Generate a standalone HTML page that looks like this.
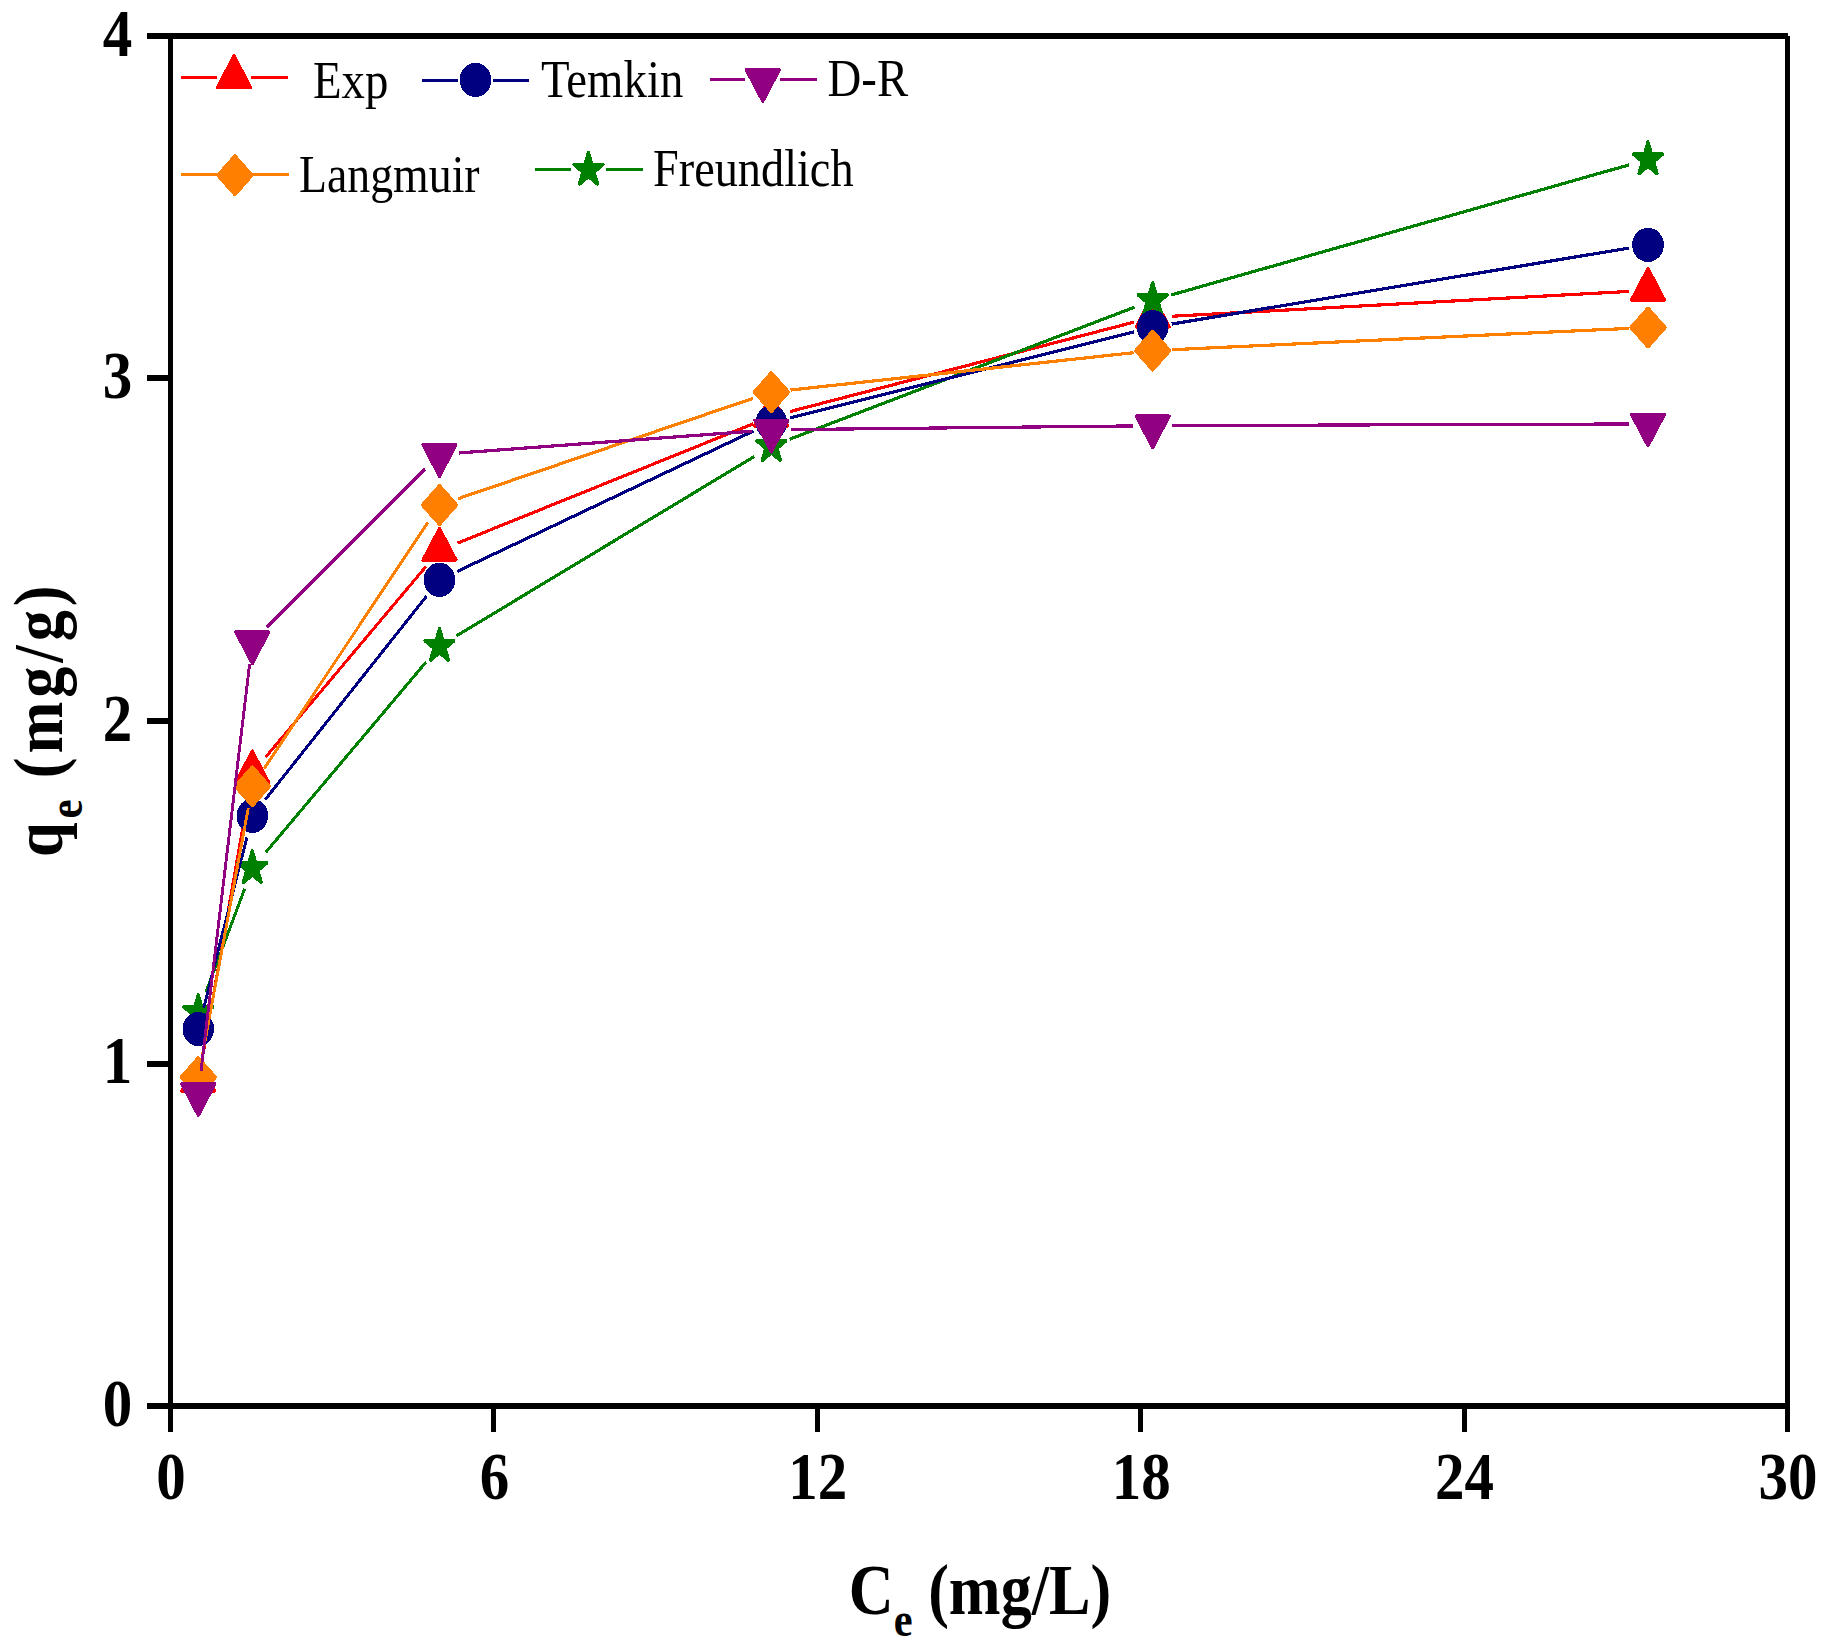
<!DOCTYPE html>
<html lang="en">
<head>
<meta charset="utf-8">
<title>Adsorption isotherm models</title>
<style>
html,body{margin:0;padding:0;background:#fff;}
body{width:1833px;height:1646px;overflow:hidden;}
svg{display:block;}
text{font-family:"Liberation Serif",serif;fill:#000;}
.b{font-weight:bold;}
</style>
</head>
<body>
<svg width="1833" height="1646" viewBox="0 0 1833 1646">
<rect x="0" y="0" width="1833" height="1646" fill="#ffffff"/>
<g transform="scale(1,1.1)" shape-rendering="crispEdges">
<g>
<line x1="202.13" y1="963.29" x2="248.47" y2="722.62" stroke="#ff0000" stroke-width="2.9"/>
<line x1="265.73" y1="688.21" x2="426.07" y2="514.88" stroke="#ff0000" stroke-width="2.9"/>
<line x1="457.64" y1="493.71" x2="753.26" y2="385.2" stroke="#ff0000" stroke-width="2.9"/>
<line x1="790.14" y1="374.12" x2="1133.96" y2="292.88" stroke="#ff0000" stroke-width="2.9"/>
<line x1="1171.88" y1="287.51" x2="1628.82" y2="264.95" stroke="#ff0000" stroke-width="2.9"/>
<polygon points="198.3,963.18 181.7,991.88 214.9,991.88" fill="#ff0000" stroke="#ff0000" stroke-width="3" stroke-linejoin="round"/>
<polygon points="252.3,682.73 235.7,711.43 268.9,711.43" fill="#ff0000" stroke="#ff0000" stroke-width="3" stroke-linejoin="round"/>
<polygon points="439.5,480.36 422.9,509.06 456.1,509.06" fill="#ff0000" stroke="#ff0000" stroke-width="3" stroke-linejoin="round"/>
<polygon points="771.4,358.55 754.8,387.25 788,387.25" fill="#ff0000" stroke="#ff0000" stroke-width="3" stroke-linejoin="round"/>
<polygon points="1152.7,268.45 1136.1,297.15 1169.3,297.15" fill="#ff0000" stroke="#ff0000" stroke-width="3" stroke-linejoin="round"/>
<polygon points="1648,244 1631.4,272.7 1664.6,272.7" fill="#ff0000" stroke="#ff0000" stroke-width="3" stroke-linejoin="round"/>
</g>
<g>
<line x1="205.98" y1="901.67" x2="244.62" y2="807.97" stroke="#008000" stroke-width="2.9"/>
<line x1="265.74" y1="774.86" x2="426.06" y2="601.86" stroke="#008000" stroke-width="2.9"/>
<line x1="456.55" y1="578.03" x2="754.35" y2="414.97" stroke="#008000" stroke-width="2.9"/>
<line x1="789.64" y1="399.29" x2="1134.46" y2="279.26" stroke="#008000" stroke-width="2.9"/>
<line x1="1171.35" y1="268.09" x2="1629.35" y2="149.82" stroke="#008000" stroke-width="2.9"/>
<polygon points="198.3,904.63 201.7,915.44 212.7,915.44 203.8,922.12 207.2,932.93 198.3,926.25 189.4,932.93 192.8,922.12 183.9,915.44 194.9,915.44" fill="#008000" stroke="#008000" stroke-width="3.4" stroke-linejoin="round"/>
<polygon points="252.3,773.72 255.7,784.53 266.7,784.53 257.8,791.21 261.2,802.02 252.3,795.34 243.4,802.02 246.8,791.21 237.9,784.53 248.9,784.53" fill="#008000" stroke="#008000" stroke-width="3.4" stroke-linejoin="round"/>
<polygon points="439.5,571.72 442.9,582.53 453.9,582.53 445,589.21 448.4,600.02 439.5,593.34 430.6,600.02 434,589.21 425.1,582.53 436.1,582.53" fill="#008000" stroke="#008000" stroke-width="3.4" stroke-linejoin="round"/>
<polygon points="771.4,390 774.8,400.8 785.8,400.8 776.9,407.48 780.3,418.29 771.4,411.61 762.5,418.29 765.9,407.48 757,400.8 768,400.8" fill="#008000" stroke="#008000" stroke-width="3.4" stroke-linejoin="round"/>
<polygon points="1152.7,257.27 1156.1,268.08 1167.1,268.08 1158.2,274.76 1161.6,285.56 1152.7,278.88 1143.8,285.56 1147.2,274.76 1138.3,268.08 1149.3,268.08" fill="#008000" stroke="#008000" stroke-width="3.4" stroke-linejoin="round"/>
<polygon points="1648,129.36 1651.4,140.17 1662.4,140.17 1653.5,146.85 1656.9,157.65 1648,150.97 1639.1,157.65 1642.5,146.85 1633.6,140.17 1644.6,140.17" fill="#008000" stroke="#008000" stroke-width="3.4" stroke-linejoin="round"/>
</g>
<g>
<line x1="203.73" y1="915.98" x2="246.87" y2="761.2" stroke="#000080" stroke-width="2.9"/>
<line x1="265.32" y1="726.8" x2="426.48" y2="542.01" stroke="#000080" stroke-width="2.9"/>
<line x1="457.28" y1="519.43" x2="753.62" y2="391.75" stroke="#000080" stroke-width="2.9"/>
<line x1="790.17" y1="379.83" x2="1133.93" y2="301.72" stroke="#000080" stroke-width="2.9"/>
<line x1="1171.71" y1="294.58" x2="1628.99" y2="225.51" stroke="#000080" stroke-width="2.9"/>
<ellipse cx="198.3" cy="935.45" rx="15.8" ry="15.55" fill="#000080"/>
<ellipse cx="252.3" cy="741.73" rx="15.8" ry="15.55" fill="#000080"/>
<ellipse cx="439.5" cy="527.09" rx="15.8" ry="15.55" fill="#000080"/>
<ellipse cx="771.4" cy="384.09" rx="15.8" ry="15.55" fill="#000080"/>
<ellipse cx="1152.7" cy="297.45" rx="15.8" ry="15.55" fill="#000080"/>
<ellipse cx="1648" cy="222.64" rx="15.8" ry="15.55" fill="#000080"/>
</g>
<g>
<line x1="202.35" y1="959.43" x2="248.25" y2="734.66" stroke="#ff8000" stroke-width="2.9"/>
<line x1="264.05" y1="698.76" x2="427.75" y2="475.14" stroke="#ff8000" stroke-width="2.9"/>
<line x1="457.93" y1="453.39" x2="752.97" y2="362.15" stroke="#ff8000" stroke-width="2.9"/>
<line x1="790.52" y1="354.56" x2="1133.58" y2="320.62" stroke="#ff8000" stroke-width="2.9"/>
<line x1="1171.88" y1="317.91" x2="1628.82" y2="298.54" stroke="#ff8000" stroke-width="2.9"/>
<polygon points="198.3,962.27 214.8,979.27 198.3,996.27 181.8,979.27" fill="#ff8000" stroke="#ff8000" stroke-width="4" stroke-linejoin="round"/>
<polygon points="252.3,697.82 268.8,714.82 252.3,731.82 235.8,714.82" fill="#ff8000" stroke="#ff8000" stroke-width="4" stroke-linejoin="round"/>
<polygon points="439.5,442.09 456,459.09 439.5,476.09 423,459.09" fill="#ff8000" stroke="#ff8000" stroke-width="4" stroke-linejoin="round"/>
<polygon points="771.4,339.45 787.9,356.45 771.4,373.45 754.9,356.45" fill="#ff8000" stroke="#ff8000" stroke-width="4" stroke-linejoin="round"/>
<polygon points="1152.7,301.73 1169.2,318.73 1152.7,335.73 1136.2,318.73" fill="#ff8000" stroke="#ff8000" stroke-width="4" stroke-linejoin="round"/>
<polygon points="1648,280.73 1664.5,297.73 1648,314.73 1631.5,297.73" fill="#ff8000" stroke="#ff8000" stroke-width="4" stroke-linejoin="round"/>
</g>
<g>
<line x1="200.94" y1="973.98" x2="249.66" y2="603.38" stroke="#900080" stroke-width="2.9"/>
<line x1="266.86" y1="570.04" x2="424.94" y2="426.33" stroke="#900080" stroke-width="2.9"/>
<line x1="458.66" y1="411.8" x2="752.24" y2="392.02" stroke="#900080" stroke-width="2.9"/>
<line x1="790.6" y1="390.54" x2="1133.5" y2="387.19" stroke="#900080" stroke-width="2.9"/>
<line x1="1171.9" y1="386.94" x2="1628.8" y2="385.43" stroke="#900080" stroke-width="2.9"/>
<polygon points="198.3,1014.09 181.7,985.39 214.9,985.39" fill="#900080" stroke="#900080" stroke-width="3" stroke-linejoin="round"/>
<polygon points="252.3,603.27 235.7,574.57 268.9,574.57" fill="#900080" stroke="#900080" stroke-width="3" stroke-linejoin="round"/>
<polygon points="439.5,433.09 422.9,404.39 456.1,404.39" fill="#900080" stroke="#900080" stroke-width="3" stroke-linejoin="round"/>
<polygon points="771.4,410.73 754.8,382.03 788,382.03" fill="#900080" stroke="#900080" stroke-width="3" stroke-linejoin="round"/>
<polygon points="1152.7,407 1136.1,378.3 1169.3,378.3" fill="#900080" stroke="#900080" stroke-width="3" stroke-linejoin="round"/>
<polygon points="1648,405.36 1631.4,376.66 1664.6,376.66" fill="#900080" stroke="#900080" stroke-width="3" stroke-linejoin="round"/>
</g>
<line x1="181.4" y1="70.27" x2="216.6" y2="70.27" stroke="#ff0000" stroke-width="2.9"/>
<line x1="251.4" y1="70.27" x2="287.5" y2="70.27" stroke="#ff0000" stroke-width="2.9"/>
<polygon points="234,50.64 217.4,79.34 250.6,79.34" fill="#ff0000" stroke="#ff0000" stroke-width="3" stroke-linejoin="round"/>
<line x1="422" y1="72.82" x2="458.1" y2="72.82" stroke="#000080" stroke-width="2.9"/>
<line x1="492.9" y1="72.82" x2="528.9" y2="72.82" stroke="#000080" stroke-width="2.9"/>
<ellipse cx="475.5" cy="72.59" rx="15.8" ry="15.55" fill="#000080"/>
<line x1="710" y1="72.18" x2="745.4" y2="72.18" stroke="#900080" stroke-width="2.9"/>
<line x1="780.2" y1="72.18" x2="816.9" y2="72.18" stroke="#900080" stroke-width="2.9"/>
<polygon points="762.8,92.18 746.2,63.48 779.4,63.48" fill="#900080" stroke="#900080" stroke-width="3" stroke-linejoin="round"/>
<line x1="181.4" y1="158.45" x2="217.5" y2="158.45" stroke="#ff8000" stroke-width="2.9"/>
<line x1="252.3" y1="158.45" x2="288.9" y2="158.45" stroke="#ff8000" stroke-width="2.9"/>
<polygon points="234.9,142.36 251.4,159.36 234.9,176.36 218.4,159.36" fill="#ff8000" stroke="#ff8000" stroke-width="4" stroke-linejoin="round"/>
<line x1="535.4" y1="153.82" x2="571.1" y2="153.82" stroke="#008000" stroke-width="2.9"/>
<line x1="605.9" y1="153.82" x2="642.8" y2="153.82" stroke="#008000" stroke-width="2.9"/>
<polygon points="588.5,138.81 591.9,149.62 602.9,149.62 594,156.3 597.4,167.11 588.5,160.43 579.6,167.11 583,156.3 574.1,149.62 585.1,149.62" fill="#008000" stroke="#008000" stroke-width="3.4" stroke-linejoin="round"/>
<g stroke="#000" fill="none" stroke-linecap="butt">
<line x1="170.5" y1="32.73" x2="170.5" y2="1301.82" stroke-width="5"/>
<line x1="1787.5" y1="32.73" x2="1787.5" y2="1301.82" stroke-width="5"/>
<line x1="147" y1="32.73" x2="1787.9" y2="32.73" stroke-width="5.45"/>
<line x1="147" y1="1278.18" x2="1787.9" y2="1278.18" stroke-width="5.45"/>
<line x1="147" y1="967.27" x2="170.5" y2="967.27" stroke-width="5.45"/>
<line x1="147" y1="655.45" x2="170.5" y2="655.45" stroke-width="5.45"/>
<line x1="147" y1="343.64" x2="170.5" y2="343.64" stroke-width="5.45"/>
<line x1="493.9" y1="1278.18" x2="493.9" y2="1301.82" stroke-width="5"/>
<line x1="817.3" y1="1278.18" x2="817.3" y2="1301.82" stroke-width="5"/>
<line x1="1140.7" y1="1278.18" x2="1140.7" y2="1301.82" stroke-width="5"/>
<line x1="1464.1" y1="1278.18" x2="1464.1" y2="1301.82" stroke-width="5"/>
</g>
</g>
<text transform="translate(313,98.4) scale(1,1.11)" font-size="46.8">Exp</text>
<text transform="translate(541,96.8) scale(1,1.11)" font-size="46.8">Temkin</text>
<text transform="translate(827.5,95.9) scale(1,1.11)" font-size="46.8">D-R</text>
<text transform="translate(299,192.1) scale(1,1.14)" font-size="45.8">Langmuir</text>
<text transform="translate(653,185.7) scale(1,1.12)" font-size="46.3">Freundlich</text>
<text class="b" transform="translate(132.2,1425.5) scale(1,1.156)" font-size="59" text-anchor="end">0</text>
<text class="b" transform="translate(132.2,1083) scale(1,1.156)" font-size="59" text-anchor="end">1</text>
<text class="b" transform="translate(132.2,740.5) scale(1,1.156)" font-size="59" text-anchor="end">2</text>
<text class="b" transform="translate(132.2,398) scale(1,1.156)" font-size="59" text-anchor="end">3</text>
<text class="b" transform="translate(132.2,55.5) scale(1,1.156)" font-size="59" text-anchor="end">4</text>
<text class="b" transform="translate(171,1499.0) scale(1,1.156)" font-size="59" text-anchor="middle">0</text>
<text class="b" transform="translate(494.4,1499.0) scale(1,1.156)" font-size="59" text-anchor="middle">6</text>
<text class="b" transform="translate(817.8,1499.0) scale(1,1.156)" font-size="59" text-anchor="middle">12</text>
<text class="b" transform="translate(1141.2,1499.0) scale(1,1.156)" font-size="59" text-anchor="middle">18</text>
<text class="b" transform="translate(1464.6,1499.0) scale(1,1.156)" font-size="59" text-anchor="middle">24</text>
<text class="b" transform="translate(1788,1499.0) scale(1,1.156)" font-size="59" text-anchor="middle">30</text>
<text class="b" transform="translate(848.8,1613.5) scale(1,1.165)" font-size="62.2">C<tspan font-size="42.5" dy="19">e</tspan><tspan dy="-19"> (mg/L)</tspan></text>
<text class="b" transform="translate(62,857) rotate(-90) scale(1.0,1.13)" font-size="62.2" letter-spacing="4.0" word-spacing="-2.5">q<tspan font-size="43" dy="17.3">e</tspan><tspan dy="-17.3"> (mg/g)</tspan></text>
</svg>
</body>
</html>
